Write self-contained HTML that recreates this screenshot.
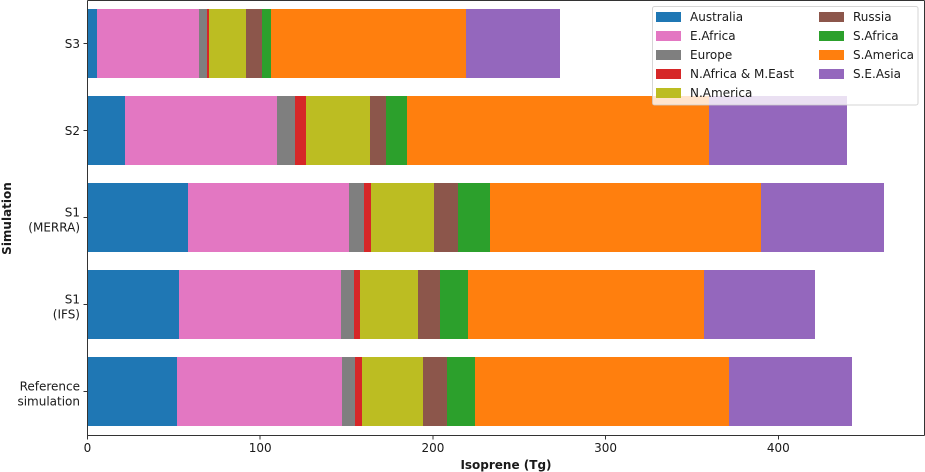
<!DOCTYPE html>
<html lang="en">
<head>
<meta charset="utf-8">
<title>Isoprene by region and simulation</title>
<style>
html,body{margin:0;padding:0;background:#fff;}
svg{display:block;}
text{font-family:"DejaVu Sans","Liberation Sans",sans-serif;fill:#1a1a1a;}
</style>
</head>
<body>
<svg id="chart" xmlns="http://www.w3.org/2000/svg" width="925" height="472" viewBox="0 0 925 472"></svg>
<script>
const simulations = ['Reference\nsimulation', 'S1\n(IFS)', 'S1\n(MERRA)', 'S2', 'S3'];
const regions = ['Australia', 'E.Africa', 'Europe', 'N.Africa & M.East', 'N.America', 'Russia', 'S.Africa', 'S.America', 'S.E.Asia'];
const xTicks = [0, 100, 200, 300, 400];
const australia = [51.8, 53.0, 58.2, 21.7, 5.5];
const eAfrica = [95.5, 93.8, 93.2, 88.0, 59.1];
const europe = [7.5, 7.5, 8.7, 10.4, 4.6];
const nAfricaMEast = [4.1, 3.5, 4.1, 6.4, 1.2];
const nAmerica = [35.3, 33.6, 36.5, 37.1, 21.4];
const russia = [13.9, 12.7, 13.7, 9.3, 9.3];
const sAfrica = [16.2, 16.2, 18.7, 12.2, 5.2];
const sAmerica = [147.1, 136.7, 156.9, 174.9, 112.9];
const seAsia = [71.2, 64.3, 71.2, 79.9, 54.4];
const series = [australia, eAfrica, europe, nAfricaMEast, nAmerica, russia, sAfrica, sAmerica, seAsia];
const colors = ['#1f77b4', '#e377c2', '#7f7f7f', '#d62728', '#bcbd22', '#8c564b', '#2ca02c', '#ff7f0e', '#9467bd'];

const NS = 'http://www.w3.org/2000/svg';
const svg = document.getElementById('chart');
const left = 87.5, right = 924.5, top0 = 0.5, bottom = 435.5;
const xScale = v => left + v * 1.727;
const yScale = i => 391.5 - i * 87;
const barH = 69;

function mk(tag, attrs, parent) {
  const el = document.createElementNS(NS, tag);
  for (const k in attrs) el.setAttribute(k, attrs[k]);
  (parent || svg).appendChild(el);
  return el;
}

simulations.forEach((sim, i) => {
  let cum = 0;
  series.forEach((vals, s) => {
    const x0 = xScale(cum), x1 = xScale(cum + vals[i]);
    const r = mk('rect', {x: x0, y: yScale(i) - barH / 2, width: x1 - x0, height: barH, fill: colors[s], 'shape-rendering': 'crispEdges'});
    
    
    cum += vals[i];
  });
});

[[left, top0, right, top0, 'top-spine'], [right, top0, right, bottom, 'right-spine'], [left, bottom, right, bottom, 'x-axis-line'], [left, top0, left, bottom, 'y-axis-line']].forEach(a => {
  const l = mk('line', {x1: a[0], y1: a[1], x2: a[2], y2: a[3], stroke: '#333', 'stroke-width': 1, 'shape-rendering': 'crispEdges'});
  
  
});

xTicks.forEach(t => {
  const x = xScale(t);
  const tick = mk('line', {x1: x, y1: bottom, x2: x, y2: bottom + 4, stroke: '#333', 'stroke-width': 1, 'shape-rendering': 'crispEdges'});
  
  
  const lab = mk('text', {x: x, y: 452, 'text-anchor': 'middle', 'font-size': 12});
  lab.textContent = t;
  
  
});

simulations.forEach((sim, i) => {
  const y = yScale(i);
  const tick = mk('line', {x1: left - 4, y1: y, x2: left, y2: y, stroke: '#333', 'stroke-width': 1, 'shape-rendering': 'crispEdges'});
  
  
  const lines = sim.split('\n');
  lines.forEach((line, j) => {
    const base = lines.length > 1 ? y - 1 + j * 15 : y + 4.5;
    const lab = mk('text', {x: 80, y: base, 'text-anchor': 'end', 'font-size': 12});
    lab.textContent = line;
    
    
  });
});

const xTitle = mk('text', {x: 506, y: 469, 'text-anchor': 'middle', 'font-size': 12, 'font-weight': 'bold'});
xTitle.textContent = 'Isoprene (Tg)';



const yTitle = mk('text', {x: 0, y: 0, 'text-anchor': 'middle', 'font-size': 12, 'font-weight': 'bold', transform: 'translate(11 218.5) rotate(-90)'});
yTitle.textContent = 'Simulation';



const legend = mk('g', {});


const frame = mk('rect', {x: 652.5, y: 6.5, width: 265.5, height: 98.5, rx: 2, ry: 2, fill: '#fff', 'fill-opacity': 0.8, stroke: '#ccc', 'stroke-opacity': 0.8, 'stroke-width': 1}, legend);


regions.forEach((name, i) => {
  const col = i < 5 ? 0 : 1;
  const row = i < 5 ? i : i - 5;
  const sx = col === 0 ? 656 : 819;
  const sy = 12 + row * 19;
  const sw = mk('rect', {x: sx, y: sy, width: 25, height: 10, fill: colors[i], 'shape-rendering': 'crispEdges'}, legend);
  
  
  const tx = mk('text', {x: sx + 34, y: sy + 9, 'font-size': 12}, legend);
  tx.textContent = name;
  
  
});
</script>
</body>
</html>
